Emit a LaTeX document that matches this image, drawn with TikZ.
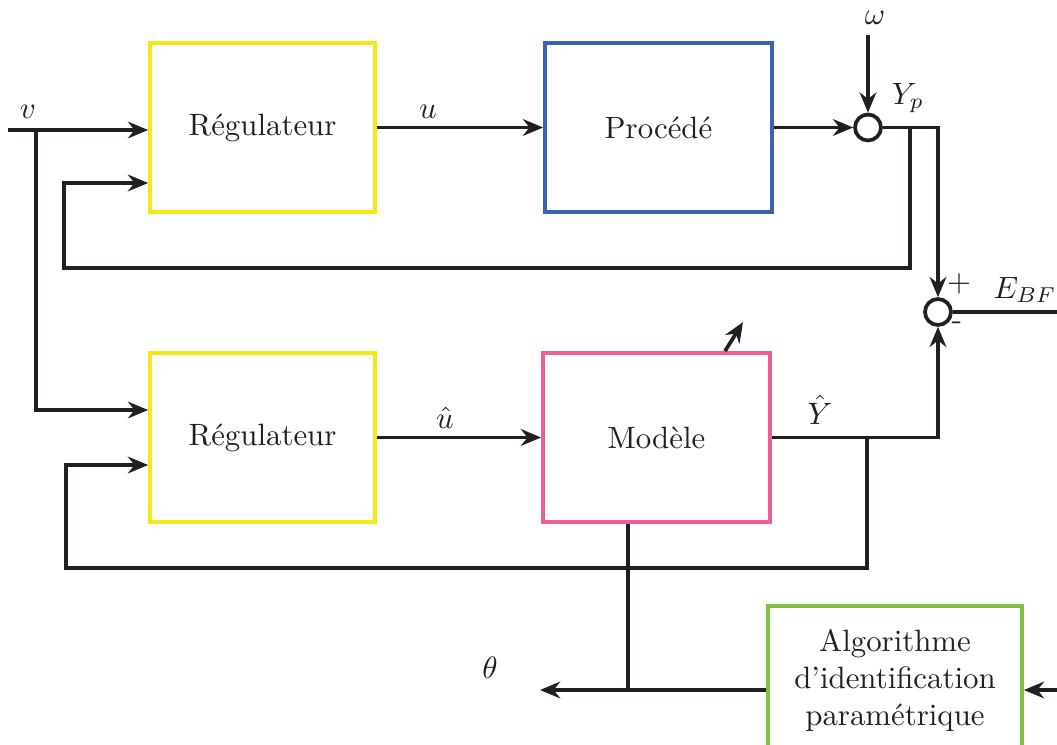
\documentclass[tikz,border=0pt]{standalone}
\usepackage{tikz}
\usetikzlibrary{arrows.meta}
\usetikzlibrary{positioning}

\definecolor{encre}{RGB}{35,31,32}
\definecolor{jauneReg}{RGB}{246,231,22}
\definecolor{bleuProc}{RGB}{59,99,178}
\definecolor{roseMod}{RGB}{238,94,151}
\definecolor{vertAlgo}{RGB}{125,194,66}

\begin{document}
\begin{tikzpicture}[x=0.0114cm, y=-0.0114cm, line width=1.2pt, draw=encre, text=encre,
	>={Stealth[length=2.3mm,width=1.9mm]},
	bloc/.style={draw, line width=1.2pt, minimum width=2.565cm, minimum height=1.927cm, inner sep=0pt},
	somme/.style={circle, draw=encre, line width=1.2pt, minimum size=0.296cm, inner sep=0pt},
	etiq/.style={inner sep=0pt}]
	
	\useasboundingbox (0,0) rectangle (1057,745);
	
	% blocs
	\node[bloc, draw=jauneReg] (reg1) at (262.5,127.5) {R\'egulateur};
	\node[bloc, draw=bleuProc, minimum width=2.588cm] (proc) at (658.5,127.5) {Proc\'ed\'e};
	\node[bloc, draw=jauneReg] (reg2) at (262.5,437.5) {R\'egulateur};
	\node[bloc, draw=roseMod, minimum width=2.588cm] (mod) at (656.5,437.5) {Mod\`ele};
	\node[bloc, draw=vertAlgo, minimum width=2.896cm, minimum height=1.687cm, align=center] (algo) at (895,680)
		{Algorithme\\d'identification\\param\'etrique};
	
	% sommateurs
	\node[somme] (sum1) at (868,127.5) {};
	\node[somme] (sum2) at (938,312) {};
	
	% points
	\coordinate (vin) at (8,130);
	\coordinate (vb) at (36,130);
	\coordinate (win) at (868,35);
	\coordinate (yp) at (910,127.5);
	\coordinate (fb1) at (64,183);
	\coordinate (yh) at (867,437.5);
	\coordinate (fb2) at (66,465);
	\coordinate (vb2) at (36,410);
	\coordinate (th) at (628,690);
	\coordinate (thout) at (540,690);
	\coordinate (ain) at (1057,690);
	\coordinate (eout) at (1057,312);
	\coordinate (dg) at (725,0);
	
	% liaisons
	\draw[->] (vin) -- (vin -| reg1.west);
	\draw[->] (vb) -- (vb2) -- (vb2 -| reg2.west);
	\draw[->] (reg1.east) -- (proc.west);
	\draw[->] (proc.east) -- (sum1.west);
	\draw[->] (win) -- (sum1.north);
	\draw[->] (sum1.east) -| (sum2.north);
	\draw[->] (yp) |- (64,268) -- (fb1) -- (fb1 -| reg1.west);
	\draw (sum2.east) -- (eout);
	\draw[->] (reg2.east) -- (mod.west);
	\draw[->] (mod.east) -| (sum2.south);
	\draw[->] (yh) |- (66,568) -- (fb2) -- (fb2 -| reg2.west);
	\draw (th |- mod.south) -- (th);
	\draw[->] (th -| algo.west) -- (thout);
	\draw[->] (ain) -- (ain -| algo.east);
	\draw[->] (dg |- mod.north) -- ++(18,-29);
	
	% etiquettes
	\node[etiq] (lv) at (28,112) {$v$};
	\node[etiq] (lu) at (428,112) {$u$};
	\node[etiq] (luh) at (445,418) {$\hat{u}$};
	\node[etiq] (lyh) at (820,410) {$\hat{Y}$};
	\node[etiq] (lyp) at (908,98) {$Y_p$};
	\node[etiq] (lw) at (875,18) {$\omega$};
	\node[etiq] (lplus) at (959,284) {$+$};
	\node[etiq] (lmoins) at (957,326) {-};
	\node[etiq] (le) at (1025,290) {$E_{BF}$};
	\node[etiq] (lth) at (490,668) {$\theta$};
	
\end{tikzpicture}
\end{document}
